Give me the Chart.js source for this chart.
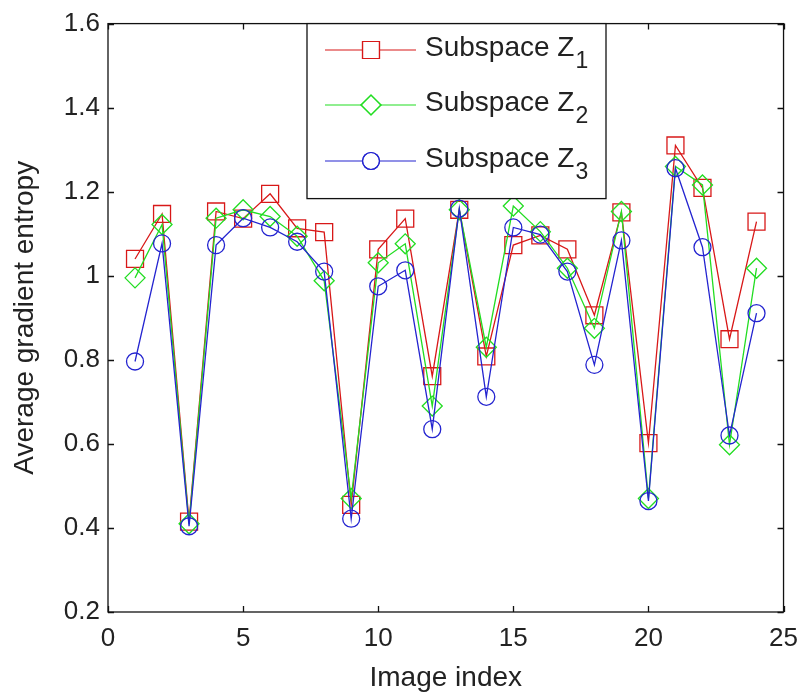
<!DOCTYPE html>
<html>
<head>
<meta charset="utf-8">
<script src="https://cdn.jsdelivr.net/npm/chart.js@4/dist/chart.umd.min.js"></script>
<style>
  html, body { margin: 0; padding: 0; background: #fff; }
  #wrap { width: 809px; height: 695px; }
</style>
</head>
<body>
<div id="wrap"><canvas id="chart" width="809" height="695"></canvas></div>
<script>
/* Average gradient entropy per image, three subspaces (MATLAB-style line plot). */

const imageIndex = [1, 2, 3, 4, 5, 6, 7, 8, 9, 10, 11, 12, 13, 14, 15, 16, 17, 18, 19, 20, 21, 22, 23, 24];
const subspaceZ1 = [1.04, 1.147, 0.415, 1.153, 1.136, 1.195, 1.113, 1.104, 0.455, 1.063, 1.136, 0.761,
                    1.157, 0.808, 1.073, 1.096, 1.063, 0.906, 1.151, 0.602, 1.31, 1.209, 0.849, 1.129];
const subspaceZ2 = [0.995, 1.122, 0.41, 1.137, 1.157, 1.141, 1.094, 0.988, 0.47, 1.031, 1.076, 0.69,
                    1.157, 0.83, 1.166, 1.105, 1.018, 0.875, 1.153, 0.47, 1.26, 1.216, 0.598, 1.018];
const subspaceZ3 = [0.796, 1.077, 0.404, 1.073, 1.137, 1.115, 1.081, 1.01, 0.422, 0.975, 1.013, 0.635,
                    1.16, 0.712, 1.115, 1.098, 1.01, 0.788, 1.084, 0.464, 1.256, 1.068, 0.62, 0.911];
const xTicks = [0, 5, 10, 15, 20, 25];
const yTicks = [0.2, 0.4, 0.6, 0.8, 1, 1.2, 1.4, 1.6];

const FONT = '"Liberation Sans", Arial, sans-serif';
const TEXT = "#222";
const SERIES = [
  { name: "Subspace Z", sub: "1", data: subspaceZ1, color: "#d81818", style: "rect", radius: 12 },
  { name: "Subspace Z", sub: "2", data: subspaceZ2, color: "#22dd22", style: "rectRot", radius: 10 },
  { name: "Subspace Z", sub: "3", data: subspaceZ3, color: "#2424d0", style: "circle", radius: 8.5 },
];

// box, inward ticks on all four sides, and the legend
const framePlugin = {
  id: "frame",
  afterDatasetsDraw(chart) {
    const { ctx, chartArea: a, scales: { x, y } } = chart;
    ctx.save();
    ctx.strokeStyle = "#111";
    ctx.lineWidth = 1.3;
    ctx.strokeRect(a.left, a.top, a.right - a.left, a.bottom - a.top);
    ctx.beginPath();
    xTicks.forEach((v) => {
      const px = Math.round(x.getPixelForValue(v)) + 0.5;
      ctx.moveTo(px, a.bottom); ctx.lineTo(px, a.bottom - 6);
      ctx.moveTo(px, a.top); ctx.lineTo(px, a.top + 6);
    });
    yTicks.forEach((v) => {
      const py = Math.round(y.getPixelForValue(v)) + 0.5;
      ctx.moveTo(a.left, py); ctx.lineTo(a.left + 6, py);
      ctx.moveTo(a.right, py); ctx.lineTo(a.right - 6, py);
    });
    ctx.stroke();

    // legend
    const bx = 307, by = a.top, bw = 299, bh = 175;
    ctx.fillStyle = "#fff";
    ctx.fillRect(bx, by, bw, bh);
    ctx.strokeRect(bx, by, bw, bh);
    const rows = [50, 105, 161];
    SERIES.forEach((s, i) => {
      const ry = rows[i];
      ctx.strokeStyle = s.color;
      ctx.lineWidth = 1.2;
      ctx.beginPath();
      ctx.moveTo(325, ry); ctx.lineTo(416, ry);
      ctx.stroke();
      ctx.fillStyle = "#fff";
      Chart.helpers.drawPoint(ctx, { pointStyle: s.style, radius: s.radius, rotation: 0, borderWidth: 1.2 }, 371, ry);
      ctx.stroke();
      ctx.fillStyle = TEXT;
      ctx.textBaseline = "alphabetic";
      ctx.textAlign = "left";
      ctx.font = `28px ${FONT}`;
      ctx.fillText(s.name, 425, ry + 6);
      const w = ctx.measureText(s.name).width;
      ctx.font = `23px ${FONT}`;
      ctx.fillText(s.sub, 425 + w + 1, ry + 18);
    });
    ctx.restore();
  },
};

new Chart(document.getElementById("chart"), {
  type: "line",
  data: {
    datasets: SERIES.map((s, i) => ({
      label: s.name + s.sub,
      data: imageIndex.map((v, k) => ({ x: v, y: s.data[k] })),
      borderColor: s.color,
      backgroundColor: "transparent",
      borderWidth: 1.3,
      pointStyle: s.style,
      pointRadius: s.radius,
      pointBorderColor: s.color,
      pointBackgroundColor: "transparent",
      pointBorderWidth: 1.3,
      tension: 0,
      order: SERIES.length - i,
    })),
  },
  options: {
    responsive: false,
    animation: false,
    layout: { padding: { top: 18, right: 21, left: 0, bottom: 0 } },
    plugins: { legend: { display: false }, tooltip: { enabled: false } },
    scales: {
      x: {
        type: "linear",
        min: 0,
        max: 25,
        afterBuildTicks: (sc) => { sc.ticks = xTicks.map((v) => ({ value: v })); },
        afterFit: (sc) => { sc.height = 83; },
        grid: { display: false, drawTicks: false },
        border: { display: false },
        ticks: { color: TEXT, font: { family: FONT, size: 26 }, padding: 11, maxRotation: 0 },
        title: { display: true, text: "Image index", color: TEXT, font: { family: FONT, size: 28 }, padding: { top: 0, bottom: 0 } },
      },
      y: {
        min: 0.2,
        max: 1.6,
        afterBuildTicks: (sc) => { sc.ticks = yTicks.map((v) => ({ value: v })); },
        afterFit: (sc) => { sc.width = 108; },
        grid: { display: false, drawTicks: false },
        border: { display: false },
        ticks: { color: TEXT, font: { family: FONT, size: 26 }, padding: 8, callback: (v) => String(v) },
        title: { display: true, text: "Average gradient entropy", color: TEXT, font: { family: FONT, size: 28 }, padding: { top: 8, bottom: 0 } },
      },
    },
  },
  plugins: [framePlugin],
});
</script>
</body>
</html>
